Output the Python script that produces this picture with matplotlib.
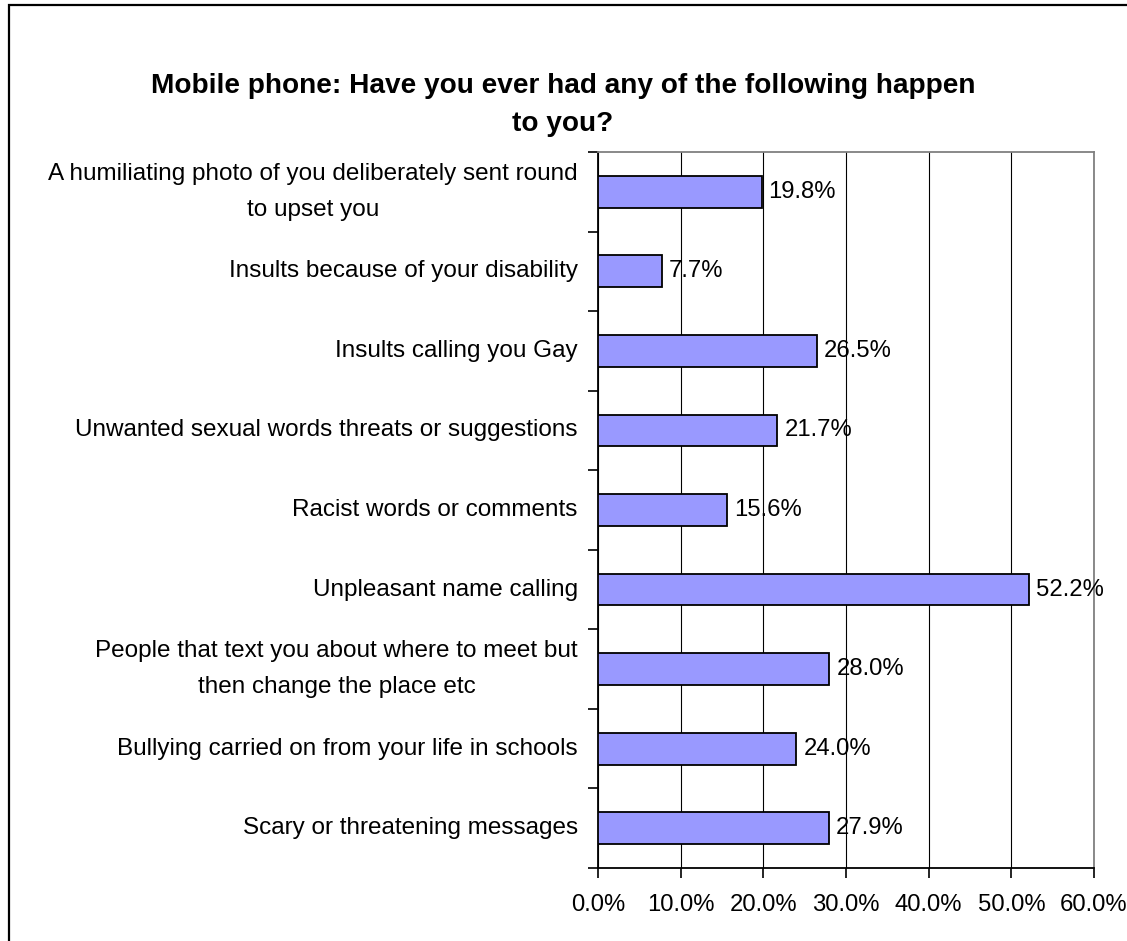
import matplotlib
matplotlib.use("Agg")
import matplotlib.pyplot as plt
from matplotlib.patches import Rectangle
from matplotlib.ticker import FuncFormatter, MultipleLocator

plt.rcParams["font.family"] = ["Liberation Sans", "DejaVu Sans"]

TITLE = "Mobile phone: Have you ever had any of the following happen\nto you?"

CATEGORIES = [
    "A humiliating photo of you deliberately sent round\nto upset you",
    "Insults because of your disability",
    "Insults calling you Gay",
    "Unwanted sexual words threats or suggestions",
    "Racist words or comments",
    "Unpleasant name calling",
    "People that text you about where to meet but\nthen change the place etc",
    "Bullying carried on from your life in schools",
    "Scary or threatening messages",
]
VALUES = [19.8, 7.7, 26.5, 21.7, 15.6, 52.2, 28.0, 24.0, 27.9]

BAR_COLOR = "#9999FF"
FS = 17.2

fig = plt.figure(figsize=(11.27, 9.41), dpi=100)
ax = fig.add_axes([0.5306, 0.0776, 0.4401, 0.7609])

pos = list(range(len(CATEGORIES)))
ax.barh(pos, VALUES, height=0.4, color=BAR_COLOR,
        edgecolor="black", linewidth=1.3, zorder=3)

for y, v in zip(pos, VALUES):
    ax.annotate(f"{v:.1f}%", xy=(v, y), xytext=(5, 0),
                textcoords="offset points", ha="left", va="center",
                fontsize=FS, zorder=4)

ax.set_xlim(0, 60)
ax.set_ylim(len(CATEGORIES) - 0.5, -0.5)
ax.xaxis.set_major_locator(MultipleLocator(10))
ax.xaxis.set_major_formatter(FuncFormatter(lambda x, _: f"{x:.1f}%"))
ax.grid(axis="x", color="#000000", linewidth=0.8, zorder=0)

# category labels sit between tick marks placed at the band edges
ax.set_yticks([p + 0.5 for p in pos[:-1]] + [-0.5, len(pos) - 0.5])
ax.set_yticklabels([])
ax.set_yticks(pos, minor=True)
ax.set_yticklabels(CATEGORIES, minor=True, fontsize=17.5, ha="right",
                   va="center", multialignment="center", linespacing=1.8)
ax.tick_params(axis="y", which="minor", length=0, pad=14.5)
ax.tick_params(axis="y", which="major", length=7, width=1.2, direction="out")
ax.tick_params(axis="x", length=7, width=1.2, direction="out",
               labelsize=FS, pad=12)

for side in ("left", "bottom"):
    ax.spines[side].set_color("black")
    ax.spines[side].set_linewidth(1.3)
for side in ("top", "right"):
    ax.spines[side].set_color("#808080")
    ax.spines[side].set_linewidth(1.3)

fig.text(0.4996, 0.888, TITLE, ha="center", va="center", fontsize=20.2,
         fontweight="bold", linespacing=1.6)

# outer chart frame (only top and left edges fall inside the image)
fig.patches.append(Rectangle((9 / 1127, -0.05), 1.2, 1.05 - 5 / 941,
                             transform=fig.transFigure, fill=False,
                             edgecolor="black", linewidth=1.6))

fig.savefig("out.png", dpi=100)
